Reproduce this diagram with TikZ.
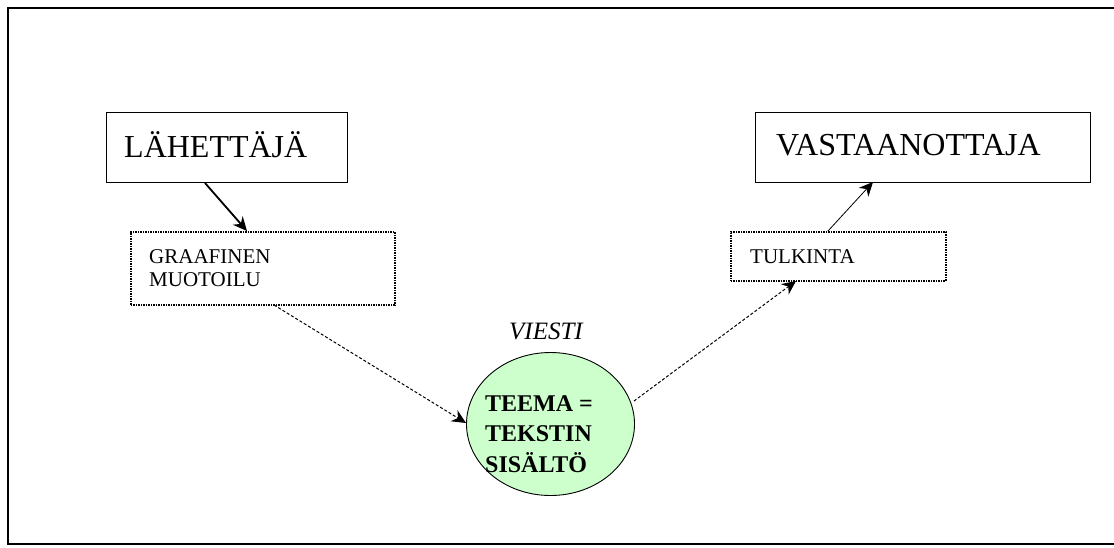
\documentclass[tikz,border=0pt]{standalone}
\usepackage{fontspec}
\setmainfont{Liberation Serif}
\usetikzlibrary{arrows.meta,shapes.geometric}
\definecolor{paleg}{HTML}{CCFFCC}
\tikzset{
  mainbox/.style={draw, line width=1.2pt, minimum height=70pt, anchor=north west, inner sep=0pt},
  dotbox/.style={draw, densely dotted, line width=1.5pt, anchor=north west, inner sep=0pt},
  bigtxt/.style={font=\fontsize{32}{34}\selectfont, anchor=west, inner sep=0pt},
  midtxt/.style={font=\fontsize{21}{23}\selectfont, anchor=west, inner sep=0pt},
  conn/.style={-{Stealth[length=14pt,width=13pt]}},
}
\begin{document}
\begin{tikzpicture}[x=1pt,y=-1pt]
\useasboundingbox (0,0) rectangle (1114,547);
\draw[line width=2pt] (1120,544) -- (8,544) -- (8,8) -- (1120,8);

% boxes
\node[mainbox, minimum width=241pt] (send) at (106,112) {};
\node[bigtxt] (sendt) at (124,145) {LÄHETTÄJÄ};
\node[mainbox, minimum width=335pt] (recv) at (755,112) {};
\node[bigtxt] (recvt) at (776,145) {VASTAANOTTAJA};

\node[dotbox, minimum width=264pt, minimum height=73pt] (graf) at (130,231) {};
\node[midtxt] (graft1) at (149,257) {GRAAFINEN};
\node[midtxt] (graft2) at (149,280) {MUOTOILU};

\node[dotbox, minimum width=215pt, minimum height=49pt] (tulk) at (730,231) {};
\node[midtxt] (tulkt) at (750,257) {TULKINTA};

\node[draw, line width=0.9pt, fill=paleg, ellipse, minimum width=168pt, minimum height=143pt, inner sep=0pt] (msg) at (550.5,424) {};
\node[font=\fontsize{25}{27}\selectfont\itshape, inner sep=0pt] (viesti) at (546,331) {VIESTI};
\node[font=\fontsize{24}{30.5}\selectfont\bfseries, align=left, anchor=north west, inner sep=0pt] (teema) at (485,395) {TEEMA =\\TEKSTIN\\SISÄLTÖ};

% connectors
\coordinate (a1) at (205,183);
\coordinate (a2) at (247,231);
\draw[conn, line width=1.8pt] (a1) -- (a2);
\coordinate (b1) at (274,305);
\coordinate (b2) at (466,423);
\draw[conn, line width=1pt, densely dashed] (b1) -- (b2);
\coordinate (c1) at (634,401);
\coordinate (c2) at (796,281);
\draw[conn, line width=1pt, densely dashed] (c1) -- (c2);
\coordinate (d1) at (828,231);
\coordinate (d2) at (873,182);
\draw[conn, line width=0.8pt] (d1) -- (d2);
\end{tikzpicture}
\end{document}
